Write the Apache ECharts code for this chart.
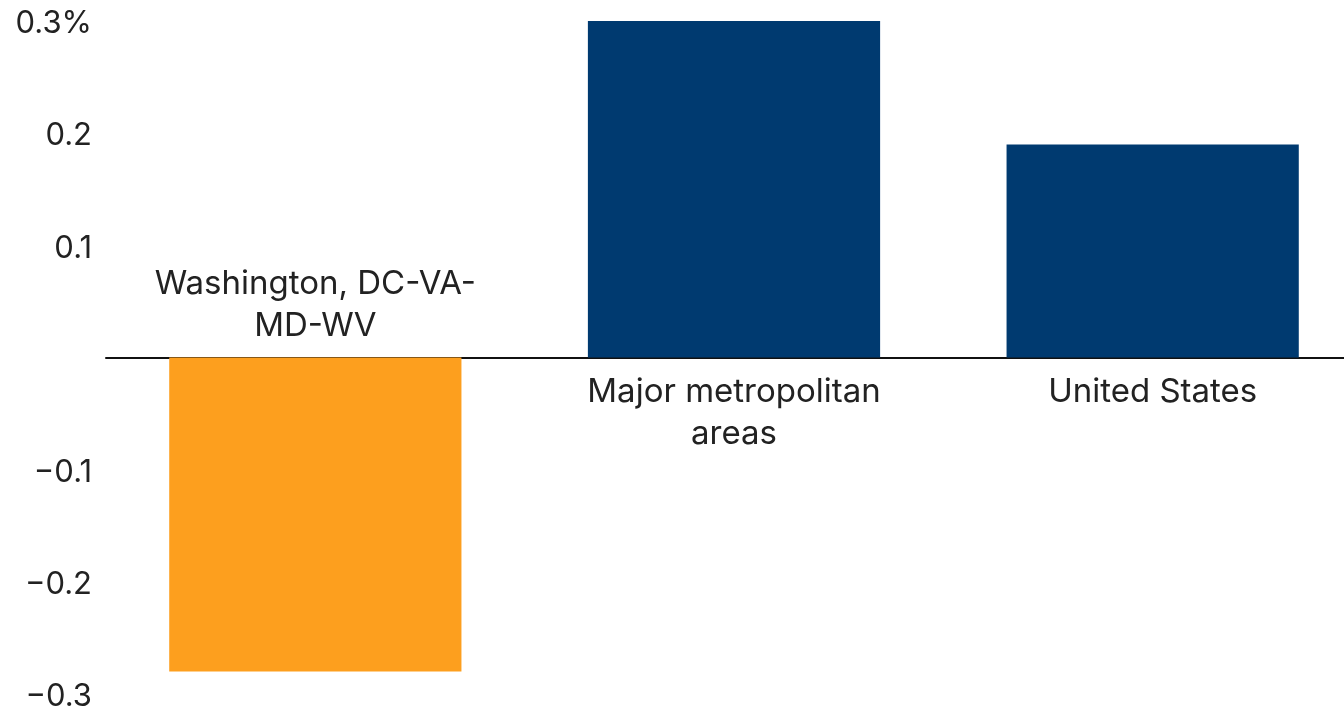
<!DOCTYPE html>
<html>
<head>
<meta charset="utf-8">
<script src="https://cdn.jsdelivr.net/npm/echarts@6/dist/echarts.min.js"></script>
<style>
html,body{margin:0;padding:0;background:#fff;}
#chart{width:1344px;height:712px;}
</style>
</head>
<body>
<div id="chart"></div>
<script>
const categories = ['Washington, DC-VA-\nMD-WV', 'Major metropolitan\nareas', 'United States'];
const values = [-0.28, 0.30, 0.19];
const barColors = ['#FD9F1E', '#003A70', '#003A70'];
const yTicks = [-0.3, -0.2, -0.1, 0, 0.1, 0.2, 0.3];

function fmtTick(v) {
  const r = Math.round(v * 10) / 10;
  if (r === 0) return '';
  let s = Math.abs(r).toFixed(1);
  if (r < 0) s = '\u2212' + s;
  if (r === 0.3) s += '%';
  return '{t|' + s + '}';
}

const chart = echarts.init(document.getElementById('chart'));
const data = values.map((v, i) => ({
  value: v,
  itemStyle: { color: barColors[i] },
  label: { position: v < 0 ? 'top' : 'bottom', distance: v < 0 ? 10 : 14 }
}));

chart.setOption({
  animation: false,
  grid: { left: 106, width: 1256, top: 21, bottom: 18, containLabel: false, outerBoundsMode: 'none' },
  xAxis: {
    type: 'category',
    data: categories,
    axisLine: { onZero: true, lineStyle: { color: '#111', width: 2 } },
    axisTick: { show: false },
    axisLabel: { show: false },
    splitLine: { show: false }
  },
  yAxis: {
    type: 'value',
    min: -0.3, max: 0.3, interval: 0.1,
    axisLine: { show: false },
    axisTick: { show: false },
    splitLine: { show: false },
    axisLabel: {
      formatter: fmtTick,
      margin: 14,
      rich: {
        t: {
          fontFamily: 'Inter',
          fontSize: 31,
          color: '#222',
          padding: [6, 0, 0, 0]
        }
      }
    }
  },
  series: [{
    type: 'bar',
    data: data,
    barCategoryGap: '30.2%',
    label: {
      show: true,
      formatter: p => categories[p.dataIndex],
      fontFamily: 'Inter',
      fontSize: 33,
      lineHeight: 42,
      color: '#222',
      align: 'center'
    }
  }]
});
</script>
</body>
</html>
